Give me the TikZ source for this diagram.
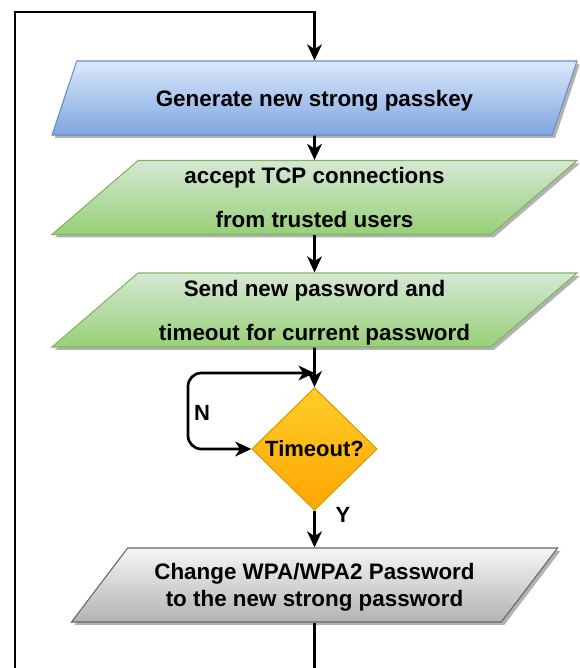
\documentclass[tikz,border=0pt]{standalone}
\usepackage{fontspec}
\setmainfont{Liberation Sans}
\usetikzlibrary{shapes.geometric,arrows.meta,shadows}

\definecolor{blueTop}{HTML}{DAE8FC}
\definecolor{blueBot}{HTML}{7EA6E0}
\definecolor{blueLine}{HTML}{6C8EBF}
\definecolor{greenTop}{HTML}{D5E8D4}
\definecolor{greenBot}{HTML}{97D077}
\definecolor{greenLine}{HTML}{82B366}
\definecolor{grayTop}{HTML}{F5F5F5}
\definecolor{grayBot}{HTML}{B3B3B3}
\definecolor{grayLine}{HTML}{666666}
\definecolor{orangeTop}{HTML}{FFCD28}
\definecolor{orangeBot}{HTML}{FFA500}
\definecolor{orangeLine}{HTML}{D79B00}

\tikzset{
  iobox/.style={trapezium, trapezium stretches body, draw, line width=0.8pt,
    inner sep=0pt, align=center, shading=axis, text depth=0pt,
    drop shadow={shadow xshift=2.2pt, shadow yshift=-2.2pt, fill=black, opacity=0.3},
    minimum height=55.5pt},
  bluebox/.style={iobox, top color=blueTop, bottom color=blueBot, draw=blueLine,
    trapezium left angle=35, trapezium right angle=145, minimum width=393.75pt,
    font=\bfseries\fontsize{16.8}{20}\selectfont, text height=13pt},
  greenbox/.style={iobox, top color=greenTop, bottom color=greenBot, draw=greenLine,
    trapezium left angle=35, trapezium right angle=145, minimum width=393.75pt,
    font=\bfseries\fontsize{16.8}{33}\selectfont},
  graybox/.style={iobox, top color=grayTop, bottom color=grayBot, draw=grayLine,
    trapezium left angle=37.6, trapezium right angle=142.4, minimum width=364.5pt,
    font=\bfseries\fontsize{16.8}{20.25}\selectfont},
  decision/.style={diamond, aspect=1, draw=orangeLine, line width=0.8pt, inner sep=0pt,
    shading=axis, top color=orangeTop, bottom color=orangeBot,
    minimum width=94pt, minimum height=92pt, font=\bfseries\fontsize{16.5}{20}\selectfont},
  flow/.style={draw, line width=2pt, -{Stealth[length=12pt, width=11pt, inset=3.5pt]}},
  branch/.style={font=\bfseries\fontsize{16.5}{20}\selectfont}
}

\begin{document}
\begin{tikzpicture}[x=0.75pt, y=-0.75pt]
  \clip (0,0) rectangle (579,668);

  % steps
  \node[bluebox] (gen) at (314.5,98) {Generate new strong passkey};
  \node[greenbox] (accept) at (314.5,197.5) {accept TCP connections\\from trusted users};
  \node[greenbox] (send) at (314.5,310) {Send new password and\\timeout for current password};
  \node[decision] (timeout) at (314.5,449) {Timeout?};
  \node[graybox] (change) at (314.5,585) {Change WPA/WPA2 Password\\to the new strong password};

  % labels
  \node[branch] (nlabel) at (202,413) {N};
  \node[branch] (ylabel) at (343,515) {Y};

  % helper points
  \coordinate (loopbot) at (15,700);
  \coordinate (looptop) at (15,12);
  \coordinate (nleft) at (188,373);
  \coordinate (njoin) at (314.5,373);

  % connectors
  \draw[flow] (change.south) |- (loopbot) -- (looptop) -| (gen.north);
  \draw[flow] (gen.south) -- (accept.north);
  \draw[flow] (accept.south) -- (send.north);
  \draw[flow] (send.south) -- (timeout.north);
  \draw[flow] (timeout.south) -- (change.north);
  \draw[flow, {Stealth[length=12pt, width=11pt, inset=3.5pt]}-{Stealth[length=12pt, width=11pt, inset=3.5pt]},
    rounded corners=10pt] (timeout.west) -| (nleft) -- (njoin);
\end{tikzpicture}
\end{document}
